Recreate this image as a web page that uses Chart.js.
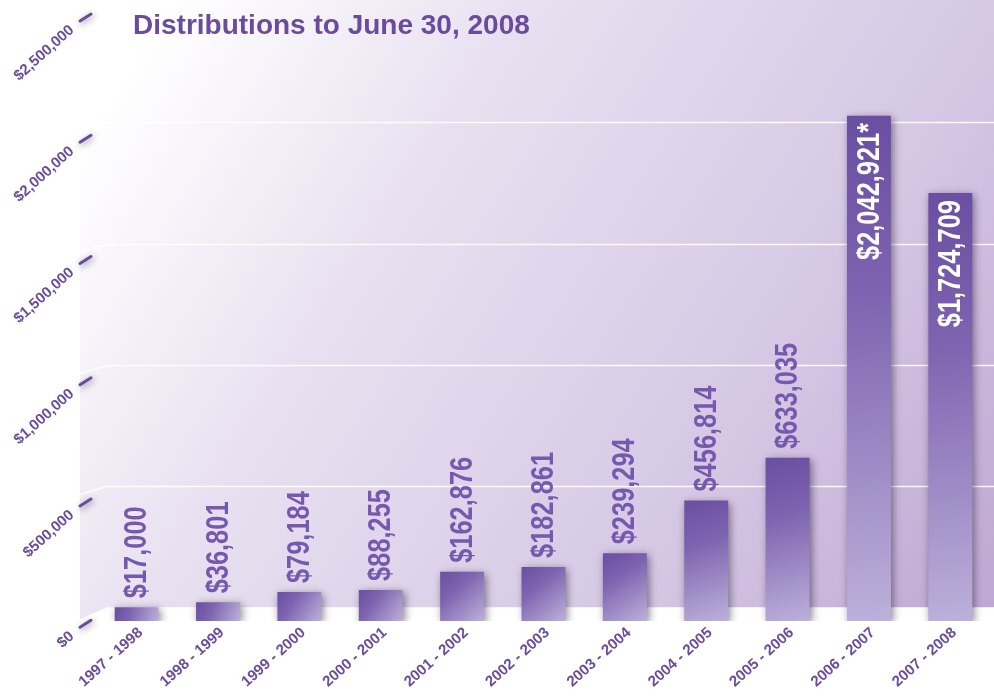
<!DOCTYPE html>
<html lang="en">
<head>
<meta charset="UTF-8">
<title>Distributions to June 30, 2008</title>
<script src="https://cdn.jsdelivr.net/npm/chart.js"></script>
<style>
    body { margin: 0; background: #fff; }
    #chart { display: block; }
</style>
</head>
<body>
<canvas id="chart" width="994" height="696"></canvas>
<script>
const chartTitle = 'Distributions to June 30, 2008';
const categories = ['1997 - 1998', '1998 - 1999', '1999 - 2000', '2000 - 2001', '2001 - 2002', '2002 - 2003',
    '2003 - 2004', '2004 - 2005', '2005 - 2006', '2006 - 2007', '2007 - 2008'];
const distributions = [17000, 36801, 79184, 88255, 162876, 182861, 239294, 456814, 633035, 2042921, 1724709];
const valueLabels = ['$17,000', '$36,801', '$79,184', '$88,255', '$162,876', '$182,861', '$239,294',
    '$456,814', '$633,035', '$2,042,921*', '$1,724,709'];
const yTickValues = [0, 500000, 1000000, 1500000, 2000000, 2500000];
const yTickLabels = ['$0', '$500,000', '$1,000,000', '$1,500,000', '$2,000,000', '$2,500,000'];

const purple = '#6a4c9c';
const labelPurple = '#7659ae';
const yMin = -40000;
const yMax = 2500000;
const font = '"Liberation Sans", Arial, sans-serif';

function barGradient(context) {
    const chart = context.chart;
    const {x, y} = chart.scales;
    if (!chart.chartArea || !x || !y) return '#7a5fb0';
    const cx = x.getPixelForValue(context.dataIndex);
    const top = y.getPixelForValue(distributions[context.dataIndex]);
    const bottom = y.getPixelForValue(yMin);
    const g = chart.ctx.createLinearGradient(cx - 22, top, cx + 22, bottom);
    g.addColorStop(0, '#6a4ea2');
    g.addColorStop(0.35, '#7d63b0');
    g.addColorStop(1, '#bdb0da');
    return g;
}

const backdrop = {
    id: 'backdrop',
    beforeDraw(chart) {
        const {ctx, width, height} = chart;
        const y = chart.scales.y;
        const floorY = y.getPixelForValue(0) - 4;
        ctx.save();
        ctx.fillStyle = '#fff';
        ctx.fillRect(0, 0, width, height);
        const g = ctx.createLinearGradient(130, 60, width, floorY);
        g.addColorStop(0, '#ffffff');
        g.addColorStop(0.3, '#e8e0f0');
        g.addColorStop(0.7, '#d5c7e4');
        g.addColorStop(1, '#bea7d3');
        ctx.fillStyle = g;
        ctx.beginPath();
        ctx.moveTo(80, 0);
        ctx.lineTo(width, 0);
        ctx.lineTo(width, floorY);
        ctx.lineTo(107, floorY);
        ctx.lineTo(80, floorY + 12);
        ctx.closePath();
        ctx.fill();
        // back wall gridlines
        ctx.strokeStyle = 'rgba(255,255,255,0.9)';
        ctx.lineWidth = 1.5;
        yTickValues.forEach(v => {
            if (v === 0 || v === yMax) return;
            const gy = Math.round(y.getPixelForValue(v) - 4) + 0.5;
            ctx.beginPath();
            ctx.moveTo(80, gy + 8);
            ctx.lineTo(107, gy);
            ctx.lineTo(width, gy);
            ctx.stroke();
        });
        ctx.restore();
    },
    beforeDatasetsDraw(chart) {
        const ctx = chart.ctx;
        ctx.save();
        ctx.shadowColor = 'rgba(40,30,50,0.55)';
        ctx.shadowBlur = 8;
        ctx.shadowOffsetX = 2;
        ctx.shadowOffsetY = 2;
    },
    afterDatasetsDraw(chart) {
        const ctx = chart.ctx;
        ctx.restore();
        const meta = chart.getDatasetMeta(0);
        meta.data.forEach((bar, i) => {
            const inside = distributions[i] > 1500000;
            ctx.save();
            ctx.translate(bar.x + 1, bar.y + (inside ? 7 : -9));
            ctx.rotate(-Math.PI / 2);
            ctx.scale(0.82, 1);
            ctx.textAlign = inside ? 'right' : 'left';
            ctx.textBaseline = 'middle';
            ctx.fillStyle = inside ? '#ffffff' : labelPurple;
            ctx.font = 'bold 31px ' + font;
            ctx.fillText(valueLabels[i], 0, 0);
            ctx.restore();
        });
    },
    afterDraw(chart) {
        const {ctx} = chart;
        const y = chart.scales.y;
        ctx.save();
        ctx.fillStyle = purple;
        ctx.font = 'bold 28px ' + font;
        ctx.textAlign = 'left';
        ctx.textBaseline = 'alphabetic';
        ctx.fillText(chartTitle, 133, 34);
        yTickValues.forEach((v, i) => {
            const ty = y.getPixelForValue(v) + 12;
            ctx.save();
            ctx.shadowColor = 'rgba(40,30,50,0.5)';
            ctx.shadowBlur = 6;
            ctx.shadowOffsetX = 1;
            ctx.shadowOffsetY = 2;
            ctx.strokeStyle = purple;
            ctx.lineWidth = 3;
            ctx.lineCap = 'round';
            ctx.beginPath();
            ctx.moveTo(80, ty + 4);
            ctx.lineTo(91, ty - 3);
            ctx.stroke();
            ctx.restore();
            ctx.save();
            ctx.translate(72, ty + 11);
            ctx.rotate(-42 * Math.PI / 180);
            ctx.textAlign = 'right';
            ctx.textBaseline = 'middle';
            ctx.fillStyle = purple;
            ctx.font = 'bold 15px ' + font;
            ctx.fillText(yTickLabels[i], 0, 0);
            ctx.restore();
        });
        ctx.restore();
    }
};

new Chart(document.getElementById('chart'), {
    type: 'bar',
    data: {
        labels: categories,
        datasets: [{
            data: distributions,
            base: yMin,
            backgroundColor: barGradient,
            borderWidth: 0,
            barPercentage: 0.54,
            categoryPercentage: 1
        }]
    },
    options: {
        responsive: false,
        devicePixelRatio: 1,
        animation: false,
        layout: { padding: { left: 96, right: 3, top: 5, bottom: 0 } },
        scales: {
            x: {
                grid: { display: false, drawTicks: false },
                border: { display: false },
                afterFit: scale => { scale.height = 75; },
                ticks: {
                    minRotation: 42,
                    maxRotation: 42,
                    padding: 3,
                    labelOffset: 4,
                    color: purple,
                    font: { family: font, size: 15, weight: 'bold' }
                }
            },
            y: {
                display: false,
                min: yMin,
                max: yMax
            }
        },
        plugins: {
            legend: { display: false },
            tooltip: { enabled: false }
        }
    },
    plugins: [backdrop]
});
</script>
</body>
</html>
